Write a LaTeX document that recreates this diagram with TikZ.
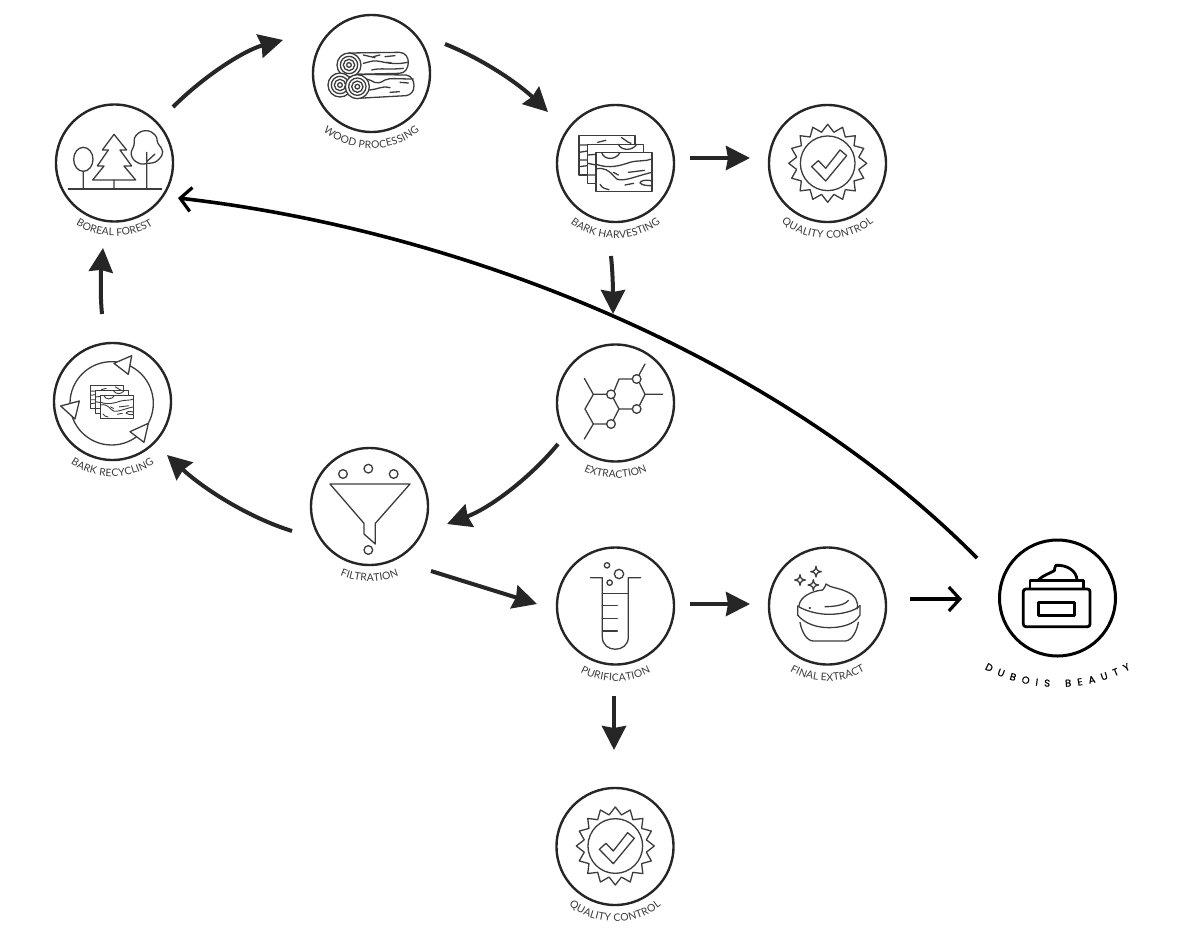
\documentclass[tikz,border=0pt]{standalone}
\usepackage{fontspec}
\setmainfont{Lato}
\newfontfamily\brandfont[FakeBold=0.6]{Poppins}
\usetikzlibrary{arrows.meta,decorations.text}
\definecolor{ink}{HTML}{262626}
\definecolor{lab}{HTML}{3A3A3A}
\newcommand\lblfont{\fontsize{10.4}{11}\selectfont\color{lab}}
\newcommand\brandfontsel{\brandfont\fontsize{10}{11}\selectfont\color{black}}
% curved caption: node, radius, half-angle, font, text, optional centre offset y
\newcommand\curvelabel[6]{%
  \pgfmathsetmacro\csx{#2*sin(#3)}%
  \pgfmathsetmacro\csy{#2*cos(#3)+#6}%
  \pgfmathsetmacro\ckx{4/3*tan(#3/2)*#2*cos(#3)}%
  \pgfmathsetmacro\cky{4/3*tan(#3/2)*#2*sin(#3)}%
  \path[decorate,decoration={text along path,text align=fit to path,text={|#4|#5}}]
    ([shift={(-\csx,\csy)}]#1.center)
    .. controls ([shift={(-\csx+\ckx,\csy+\cky)}]#1.center)
    and ([shift={(\csx-\ckx,\csy+\cky)}]#1.center)
    .. ([shift={(\csx,\csy)}]#1.center);
}
% bark stack, in the coordinates of a 3x crop
\newcommand\barkicon{%
  \draw[fill=white] (102,122) rectangle (270,240);
  \draw (102,150)--(128,150) (102,172)--(128,168) (102,195)--(128,195) (102,215)--(128,212);
  \draw (158,142)--(182,136) (230,128) .. controls (240,132) and (245,142) .. (258,145);
  \draw[fill=white] (128,148) rectangle (296,265);
  \draw (128,180)--(153,178) (128,205)--(153,210) (128,240)--(153,240);
  \draw (220,148) .. controls (230,168) and (262,168) .. (275,148);
  \draw[fill=white] (153,173) rectangle (321,290);
  \draw (170,173) .. controls (178,196) and (212,196) .. (225,173);
  \draw (153,208) .. controls (195,222) and (225,212) .. (255,202) .. controls (280,195) and (300,200) .. (321,192);
  \draw (153,222) .. controls (175,215) and (195,228) .. (208,245) .. controls (222,268) and (265,245) .. (321,232);
  \draw (250,232)--(298,226) (240,270)--(266,265) (165,268) .. controls (172,280) and (182,282) .. (192,284);
  \draw (321,258) .. controls (300,252) and (285,258) .. (285,264) .. controls (292,272) and (310,272) .. (321,272);
  \draw (205,232)--(220,240);
}
% quality seal, around its own centre
\newcommand\qcicon{%
  \draw plot[samples at={0,1,...,31},variable=\k]
    ({(mod(\k,2)==0?117:95)*cos(\k*11.25+90)},{(mod(\k,2)==0?117:95)*sin(\k*11.25+90)}) -- cycle;
  \draw (0,0) circle[radius=82];
  \draw (-48,10)--(-28,-8)--(-6,15)--(37,-40)--(57,-23)--(-6,53)--cycle;
}
\tikzset{
  stage/.style={circle,draw=ink,line width=2.4pt,minimum size=117pt,inner sep=0pt},
  brandstage/.style={circle,draw=black,line width=3pt,minimum size=116pt,inner sep=0pt},
  icon/.style={draw=ink!90,line width=1.3pt,line join=round,line cap=round},
  flow/.style={draw=ink,line width=4pt,-{Stealth[length=24pt,width=24pt,inset=2pt]}},
  openflow/.style={draw=black,line width=3.6pt,-{Straight Barb[length=11pt,width=24pt,line width=3.2pt]}},
}
\begin{document}
\begin{tikzpicture}[x=1pt,y=-1pt]
\useasboundingbox (0,0) rectangle (1181,937);
\fill[white] (0,0) rectangle (1181,937);
\node[stage] (boreal) at (114.5,163) {};
\node[stage] (wood) at (371.5,73.5) {};
\node[stage] (bark) at (615.5,163.5) {};
\node[stage] (qcone) at (827.5,163.5) {};
\node[stage] (recycling) at (112.5,401.5) {};
\node[stage] (extraction) at (615.5,403) {};
\node[stage] (filtration) at (369.5,506.5) {};
\node[stage] (purification) at (615.5,606) {};
\node[stage] (final) at (827.5,606) {};
\node[brandstage] (dubois) at (1057.5,598) {};
\node[stage] (qctwo) at (615,846.5) {};

% forest
\begin{scope}[shift={(40,90)},scale=1/3,icon]
  \draw (85,297)--(365,297);
  \draw (130,208) ellipse[x radius=29,y radius=36];
  \draw (130,244)--(130,297) (222,270)--(222,297) (320,187)--(320,297) (320,215)--(345,192);
  \draw (222,133)--(260,180)--(240,180)--(275,228)--(252,228)--(287,270)--(158,270)--(192,228)--(172,228)--(205,180)--(187,180)--cycle;
  \draw plot[smooth cycle,tension=.8] coordinates {(316,122) (345,135) (354,160) (368,185) (352,212) (325,220) (295,219) (274,195) (282,165) (287,138)};
\end{scope}
% logs
\begin{scope}[shift={(300,5)},scale=1/3,icon]
  \draw (147,144)--(298,142) .. controls (318,142) and (325,160) .. (325,172) .. controls (325,190) and (315,205) .. (298,205)--(170,208);
  \draw[fill=white] (172,208)--(318,210) .. controls (335,212) and (342,228) .. (342,242) .. controls (342,260) and (332,270) .. (318,272)--(172,280)--cycle;
  \draw (190,150)--(225,158) (220,155)--(240,150) (255,155)--(285,152) (190,175)--(210,170) .. controls (235,160) and (265,185) .. (322,172) (215,195) .. controls (240,188) and (270,195) .. (310,190) (260,172)--(275,174);
  \draw (200,222) .. controls (220,225) and (225,245) .. (255,225) .. controls (270,218) and (290,222) .. (340,222) (205,255) .. controls (230,255) and (250,240) .. (270,248) (300,232)--(325,234) (270,262)--(298,260);
  \foreach \cx/\cy in {147/180,120/240,172/245}{
    \draw[fill=white] (\cx,\cy) circle[radius=36];
    \draw (\cx,\cy) circle[radius=26];
    \draw (\cx,\cy) circle[radius=17];
    \draw (\cx,\cy) circle[radius=7];
  }
\end{scope}
% bark
\begin{scope}[shift={(545,95)},scale=1/3,icon]\barkicon\end{scope}
% seals
\begin{scope}[shift={(827.7,163.3)},scale=1/3,icon]\qcicon\end{scope}
\begin{scope}[shift={(615.3,846)},scale=1/3,icon]\qcicon\end{scope}
% recycling
\begin{scope}[shift={(40,335)},scale=1/3,icon]
  \draw (215,205) circle[radius=125];
  \draw[fill=white] (222,85)--(275,62)--(265,118)--cycle;
  \draw[fill=white] (62,213)--(118,198)--(105,252)--cycle;
  \draw[fill=white] (270,290)--(325,265)--(312,322)--cycle;
\end{scope}
\begin{scope}[shift={(70.95,362.08)},scale=.58/3,icon,line width=.9pt]\barkicon\end{scope}
% molecule
\begin{scope}[shift={(545,335)},scale=1/3,icon]
  \draw (118,130)--(145,178)--(185,178) (145,178)--(120,222)--(145,267)--(185,267) (145,267)--(118,312);
  \draw (205,190)--(222,222)--(262,222) (205,255)--(222,222) (208,166)--(222,132)--(262,132);
  \draw (282,120)--(300,87) (284,145)--(300,178)--(353,178) (300,178)--(284,210);
  \foreach \cx/\cy in {198/178,198/267,275/222,275/132}{\draw (\cx,\cy) circle[radius=13];}
\end{scope}
% funnel
\begin{scope}[shift={(300,440)},scale=1/3,icon]
  \draw (90,132)--(330,132)--(226,250)--(226,312)--(192,282)--(192,250)--cycle;
  \foreach \cx/\cy in {129/102,205/86,281/102,205/330}{\draw (\cx,\cy) circle[radius=13];}
\end{scope}
% test tube
\begin{scope}[shift={(545,535)},scale=1/3,icon]
  \draw (137,128)--(172,128)--(172,306) .. controls (172,355) and (250,355) .. (250,306)--(250,128)--(287,128);
  \draw (172,175)--(250,175) (172,212)--(217,212) (172,250)--(217,250) (172,288)--(217,288);
  \draw (186,91) circle[radius=8] (222,117) circle[radius=14] (194,143) circle[radius=8];
\end{scope}
% final cream
\begin{scope}[shift={(755,535)},scale=1/3,icon]
  \foreach \cx/\cy in {183/110,135/135,175/150}{
    \draw (\cx,\cy-16) .. controls (\cx+2,\cy-4) and (\cx+4,\cy-2) .. (\cx+16,\cy) .. controls (\cx+4,\cy+2) and (\cx+2,\cy+4) .. (\cx,\cy+16) .. controls (\cx-2,\cy+4) and (\cx-4,\cy+2) .. (\cx-16,\cy) .. controls (\cx-4,\cy-2) and (\cx-2,\cy-4) .. (\cx,\cy-16);
  }
  \draw (132,212) .. controls (135,185) and (170,168) .. (203,165) .. controls (210,160) and (210,152) .. (213,147) .. controls (225,158) and (250,158) .. (275,170) .. controls (300,180) and (312,200) .. (306,222);
  \draw (210,215) .. controls (240,215) and (270,210) .. (280,196);
  \draw (163,219)--(166,219);
  \draw (128,213) .. controls (150,228) and (190,238) .. (222,238) .. controls (260,238) and (300,228) .. (315,212);
  \draw (128,213)--(128,240) .. controls (150,268) and (190,278) .. (222,278) .. controls (260,278) and (300,268) .. (315,240)--(315,212);
  \draw (135,262) .. controls (140,290) and (155,318) .. (175,318)--(270,318) .. controls (290,318) and (305,290) .. (310,262);
\end{scope}
% brand jar
\begin{scope}[shift={(975,530)},scale=1/3,draw=black,line width=2.8pt,line join=round]
  \draw[rounded corners=2.5pt] (145,177) rectangle (345,290);
  \draw (165,177)--(165,152)--(325,152)--(325,177);
  \draw (190,150) .. controls (205,135) and (225,130) .. (238,122) .. controls (240,112) and (240,108) .. (243,106) .. controls (275,104) and (305,122) .. (306,150);
  \draw (190,218) rectangle (298,257);
\end{scope}

% captions
\curvelabel{boreal}{73}{32}{\lblfont}{BOREAL FOREST}{0}
\curvelabel{wood}{75}{40}{\lblfont}{WOOD PROCESSING}{0}
\curvelabel{bark}{75}{37}{\lblfont}{BARK HARVESTING}{0}
\curvelabel{qcone}{75}{38}{\lblfont}{QUALITY CONTROL}{0}
\curvelabel{recycling}{75}{34}{\lblfont}{BARK RECYCLING}{0}
\curvelabel{extraction}{75}{25}{\lblfont}{EXTRACTION}{0}
\curvelabel{filtration}{75}{23}{\lblfont}{FILTRATION}{0}
\curvelabel{purification}{75}{28}{\lblfont}{PURIFICATION}{0}
\curvelabel{final}{75}{30}{\lblfont}{FINAL EXTRACT}{0}
\curvelabel{qctwo}{75}{38}{\lblfont}{QUALITY CONTROL}{0}
\curvelabel{dubois}{157}{27.7}{\brandfontsel}{DUBOIS BEAUTY}{-68}

% connectors
\draw[flow] ([shift={(58.5,-56)}]boreal.center) .. controls (205,75) and (245,50) .. ([shift={(-88.5,-33.5)}]wood.center);
\draw[flow] ([shift={(73.5,-29.5)}]wood.center) .. controls (485,60) and (520,85) .. ([shift={(-67.5,-51.5)}]bark.center);
\draw[flow] ([shift={(74.5,-5.5)}]bark.center) -- ([shift={(-77.5,-5.5)}]qcone.center);
\draw[flow] ([shift={(-4.5,92.5)}]bark.center) .. controls (613,275) and (613,295) .. ([shift={(-2.5,-89)}]extraction.center);
\draw[flow] ([shift={(-57.5,41)}]extraction.center) .. controls (530,478) and (490,508) .. ([shift={(77.5,17.5)}]filtration.center);
\draw[flow] ([shift={(-77.5,24.5)}]filtration.center) .. controls (250,518) and (205,490) .. ([shift={(54.5,53.5)}]recycling.center);
\draw[flow] ([shift={(-10.5,-87.5)}]recycling.center) .. controls (100,295) and (101,270) .. ([shift={(-11.5,85)}]boreal.center);
\draw[flow] ([shift={(61.5,64.5)}]filtration.center) -- ([shift={(-78.5,-2)}]purification.center);
\draw[flow] ([shift={(74.5,-2)}]purification.center) -- ([shift={(-77.5,-2)}]final.center);
\draw[flow] ([shift={(-1.5,90)}]purification.center) -- ([shift={(-1,-96.5)}]qctwo.center);
\draw[openflow] ([shift={(82.5,-7)}]final.center) -- ([shift={(-95.5,1)}]dubois.center);
\draw[openflow] ([shift={(-80.5,-40)}]dubois.center) .. controls (770,349) and (450,229) .. ([shift={(63.5,35)}]boreal.center);
\end{tikzpicture}
\end{document}
